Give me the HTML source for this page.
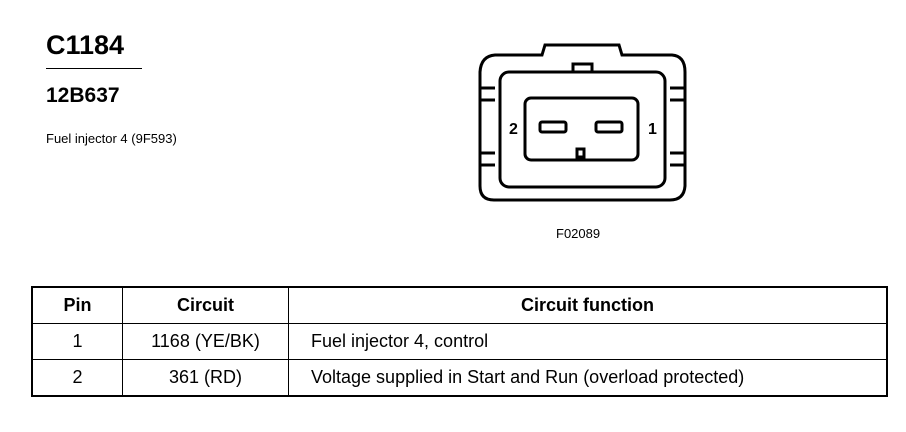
<!DOCTYPE html><html><head><style>
body{margin:0;width:906px;height:432px;background:#fff;font-family:"Liberation Sans",sans-serif;position:relative;overflow:hidden;color:#000}
.a{position:absolute;white-space:nowrap}
table{position:absolute;left:31px;top:286px;width:857px;border-collapse:collapse;border:2px solid #000}
td{border:1.5px solid #000;font-size:18px;padding:0;text-align:center;height:35px}
tr.h td{font-weight:bold;height:35px}
td.l{text-align:left;padding-left:22px}
</style></head><body>
<div class="a" style="left:46px;top:30px;font-size:27px;font-weight:bold">C1184</div>
<div style="position:absolute;left:46px;top:68px;width:96px;border-top:1.5px solid #000"></div>
<div class="a" style="left:46px;top:84px;font-size:21px;font-weight:bold">12B637</div>
<div class="a" style="left:46px;top:131px;font-size:13px">Fuel injector 4 (9F593)</div>
<div class="a" style="left:556px;top:226px;font-size:13px">F02089</div>
<svg class="a" style="left:0;top:0" width="906" height="280">
<g fill="none" stroke="#000" stroke-width="3">
<path d="M542 55 L545 45 L619 45 L622 55 L672 55 Q685 56 685 72 L685 88 L685 165 L685 186 Q684 200 670 200 L494 200 Q480 200 480 186 L480 165 L480 88 L480 72 Q481 56 495 55 Z"/>
<rect x="500" y="72" width="165" height="115" rx="9"/>
<rect x="525" y="98" width="113" height="62" rx="6"/>
<path d="M480 88 H495 M480 165 H495 M480 100 H495 M480 153 H495 M670 88 H685 M670 165 H685 M670 100 H685 M670 153 H685"/>
<rect x="540" y="122" width="26" height="10" rx="2"/>
<rect x="596" y="122" width="26" height="10" rx="2"/>
<rect x="573" y="64" width="19" height="8"/>
<rect x="577" y="149" width="7" height="8"/>
</g>
<text x="509" y="134" font-size="16" font-weight="bold" font-family="Liberation Sans">2</text>
<text x="648" y="134" font-size="16" font-weight="bold" font-family="Liberation Sans">1</text>
</svg>
<table>
<tr class="h"><td style="width:89px">Pin</td><td style="width:165px">Circuit</td><td>Circuit function</td></tr>
<tr><td>1</td><td>1168 (YE/BK)</td><td class="l">Fuel injector 4, control</td></tr>
<tr><td>2</td><td>361 (RD)</td><td class="l">Voltage supplied in Start and Run (overload protected)</td></tr>
</table>
</body></html>
